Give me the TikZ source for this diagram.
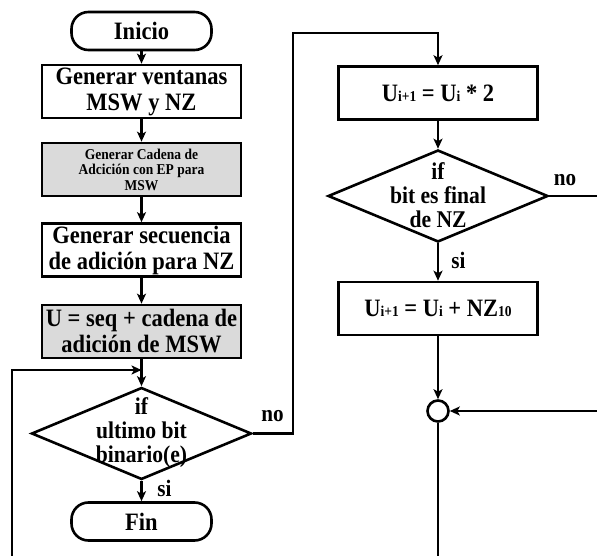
\documentclass[tikz,border=0pt]{standalone}
\usepackage{fontspec}
\setmainfont{Liberation Serif}[FakeStretch=0.9]
\usetikzlibrary{arrows.meta,shapes.geometric}
\definecolor{boxgray}{RGB}{218,218,218}
% small index letters set on the baseline
\newcommand\lowidx[1]{{\fontsize{15pt}{15pt}\selectfont #1}}

\begin{document}
\begin{tikzpicture}[x=1pt,y=-1pt,
  every node/.style={font=\fontsize{25pt}{26pt}\selectfont\bfseries},
  line/.style={line width=2.6pt},
  arr/.style={line, -{Stealth[length=10pt,width=9pt,inset=2.5pt]}},
  terminal/.style={draw, line width=2.6pt, rounded corners=17pt,
    minimum width=140pt, minimum height=38pt, inner sep=0pt},
  proc/.style={draw, line width=2.6pt, minimum width=199pt,
    minimum height=53pt, inner sep=0pt, align=center},
  shaded/.style={proc, fill=boxgray},
  decision/.style={draw, diamond, line width=2.6pt, minimum width=220pt,
    minimum height=92pt, inner sep=0pt},
  dtext/.style={align=center, inner sep=0pt,
    font=\fontsize{24pt}{24pt}\selectfont\bfseries},
  tag/.style={inner sep=0pt, font=\fontsize{23.5pt}{24pt}\selectfont\bfseries}
]
\useasboundingbox (0,0) rectangle (597,556);

% left column
\node[terminal] (ini) at (141.5,31) {Inicio};
\node[proc] (b1) at (141.5,91.5) {Generar ventanas\\MSW y NZ};
\node[shaded, font=\fontsize{15pt}{15.5pt}\selectfont\bfseries] (b2) at (141.5,169.5)
  {Generar Cadena de\\Adcición con EP para\\MSW};
\node[proc] (b3) at (141.5,250) {Generar secuencia\\de adición para NZ};
\node[shaded] (b4) at (141.5,331.5) {U = seq + cadena de\\adición de MSW};
\node[decision] (d1) at (141.5,433.5) {};
\node[dtext] (d1t) at (141.5,433) {if\\ultimo bit\\binario(e)};
\node[terminal] (fin) at (141.5,521.5) {Fin};

% right column
\node[proc] (b5) at (438,93) {U\lowidx{i+1} = U\lowidx{i} * 2};
\node[decision] (d2) at (438,196) {};
\node[dtext] (d2t) at (438,195) {if\\bit es final\\de NZ};
\node[proc] (b6) at (438,308.5) {U\lowidx{i+1} = U\lowidx{i} + NZ\lowidx{10}};
\node[circle, draw, line width=2.6pt, minimum size=21pt, inner sep=0pt] (cj) at (438,411) {};

% branch labels
\node[tag] (no1) at (272.5,416) {no};
\node[tag] (si1) at (164.5,488) {si};
\node[tag] (no2) at (565,180) {no};
\node[tag] (si2) at (458.5,260) {si};

% free ends and bends
\coordinate (loopBot) at (12,556);
\coordinate (loopIn) at (141.5,370);
\coordinate (bend) at (293,33);
\coordinate (rightA) at (597,196);
\coordinate (rightB) at (597,411);
\coordinate (bottom) at (438,556);

% connectors
\draw[arr] (ini) -- (b1);
\draw[arr] (b1) -- (b2);
\draw[arr] (b2) -- (b3);
\draw[arr] (b3) -- (b4);
\draw[arr] (b4) -- (d1);
\draw[arr] (loopBot) |- (loopIn);
\draw[arr] (d1) -- (fin);
\draw[arr] (d1.east) -| (bend) -| (b5.north);
\draw[arr] (b5) -- (d2);
\draw[arr] (d2) -- (b6);
\draw[line] (d2.east) -- (rightA);
\draw[arr] (b6) -- (cj);
\draw[arr] (rightB) -- (cj);
\draw[line] (cj) -- (bottom);
\end{tikzpicture}
\end{document}
